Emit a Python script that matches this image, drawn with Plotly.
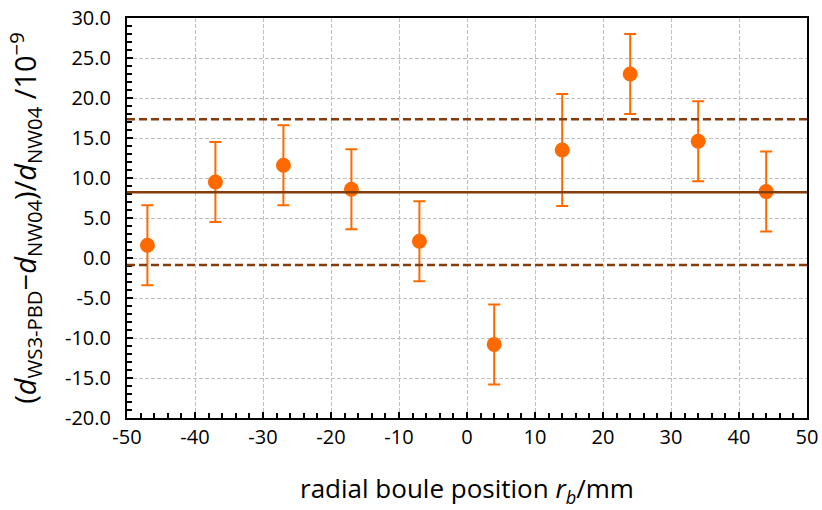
import plotly.graph_objects as go

# Data
positions = [-47, -37, -27, -17, -7, 4, 14, 24, 34, 44]
rel_diff = [1.6, 9.5, 11.6, 8.6, 2.1, -10.8, 13.5, 23.0, 14.6, 8.3]
uncert = [5.0, 5.0, 5.0, 5.0, 5.0, 5.0, 7.0, 5.0, 5.0, 5.0]
mean_value = 8.23
band_upper = 17.33
band_lower = -0.87
x_ticks = [-50, -40, -30, -20, -10, 0, 10, 20, 30, 40, 50]
y_ticks = [-20, -15, -10, -5, 0, 5, 10, 15, 20, 25, 30]

orange = "#FF6A00"
brown = "#843C0C"
font_family = "Open Sans, Noto Sans, sans-serif"

fig = go.Figure()

fig.add_hline(y=mean_value, line=dict(color=brown, width=2.5), layer="above")
fig.add_hline(y=band_upper, line=dict(color=brown, width=2.5, dash="8px,4px"), layer="above")
fig.add_hline(y=band_lower, line=dict(color=brown, width=2.5, dash="8px,4px"), layer="above")

fig.add_trace(go.Scatter(
    x=positions, y=rel_diff, mode="markers",
    marker=dict(color=orange, size=15, line=dict(width=0)),
    error_y=dict(type="data", array=uncert, visible=True, color=orange, thickness=2, width=6),
    showlegend=False,
))

fig.update_layout(
    width=822, height=510,
    margin=dict(l=127, r=15, t=18, b=92),
    paper_bgcolor="white", plot_bgcolor="white",
    font=dict(family=font_family, color="black", size=20),
    xaxis=dict(
        range=[-50, 50], tickvals=x_ticks, ticktext=[str(v) for v in x_ticks],
        showline=True, linecolor="black", linewidth=2, mirror=True,
        ticks="inside", ticklen=6, tickwidth=2, tickcolor="black",
        showgrid=True, gridcolor="#BFBFBF", gridwidth=1, griddash="4px,2px",
        minor=dict(dtick=2, tick0=0, ticks="inside", ticklen=5, tickwidth=1.5, tickcolor="black", showgrid=False),
        zeroline=False, tickfont=dict(size=20), automargin=False,
        title=dict(text="radial boule position <i>r<sub>b</sub></i>/mm", font=dict(size=26), standoff=31),
    ),
    yaxis=dict(
        range=[-20, 30], tickvals=y_ticks, ticktext=[f"{v:.1f}" for v in y_ticks],
        showline=True, linecolor="black", linewidth=2, mirror=True,
        ticks="inside", ticklen=6, tickwidth=2, tickcolor="black",
        showgrid=True, gridcolor="#BFBFBF", gridwidth=1, griddash="4px,2px",
        minor=dict(dtick=1, tick0=0, ticks="inside", ticklen=5, tickwidth=1.5, tickcolor="black", showgrid=False),
        zeroline=False, tickfont=dict(size=20), automargin=False, ticklabelstandoff=10,
        title=dict(text="(<i>d</i><sub>WS3-PBD</sub>−<i>d</i><sub>NW04</sub>)/<i>d</i><sub>NW04</sub> /10<sup>−9</sup>",
                   font=dict(size=29), standoff=20),
    ),
)

fig.write_html("out.html", config={"displayModeBar": False},
               post_script="document.body.style.margin='0';")
